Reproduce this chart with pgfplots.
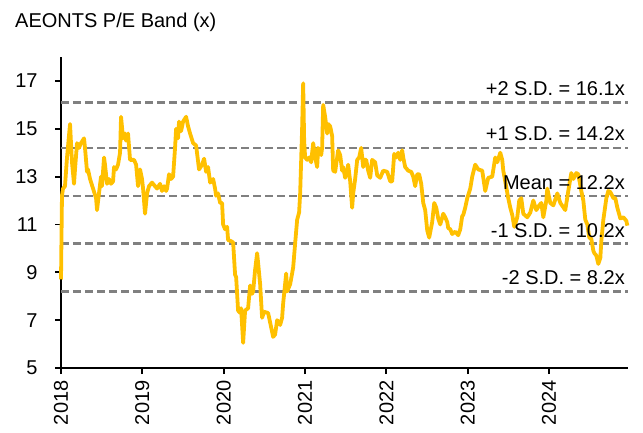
\documentclass[border=0pt]{standalone}
\usepackage{fontspec}
\setmainfont{Liberation Sans}
\usepackage{pgfplots}
\pgfplotsset{compat=1.18}
\definecolor{pegold}{HTML}{FFC000}
\definecolor{bandgray}{HTML}{808080}
\begin{document}
\begin{tikzpicture}
\begin{axis}[
  at={(61pt,64pt)}, anchor=south west,
  scale only axis, width=567pt, height=311pt,
  xmin=2018, xmax=2024.97, ymin=5, ymax=18,
  axis lines=left, axis line style={black, line width=1.8pt, -},
  xtick={2018,2019,2020,2021,2022,2023,2024},
  ytick={5,7,9,11,13,15,17},
  xticklabel={\pgfmathprintnumber[1000 sep={}]{\tick}},
  /pgf/number format/assume math mode=true,
  tick align=outside, major tick length=6pt,
  tick style={black, line width=1.8pt},
  ticklabel style={font=\fontsize{20}{22}\selectfont},
  yticklabel style={anchor=east, xshift=-14pt},
  xticklabel style={rotate=90, anchor=east, yshift=0pt, xshift=-3pt},
  clip=false,
]
\addplot[bandgray, line width=2.3pt, dash pattern=on 8pt off 4pt] coordinates {(2018,16.1) (2024.97,16.1)};
\addplot[bandgray, line width=2.3pt, dash pattern=on 8pt off 4pt] coordinates {(2018,14.2) (2024.97,14.2)};
\addplot[bandgray, line width=2.3pt, dash pattern=on 8pt off 4pt] coordinates {(2018,12.2) (2024.97,12.2)};
\addplot[bandgray, line width=2.3pt, dash pattern=on 8pt off 4pt] coordinates {(2018,10.2) (2024.97,10.2)};
\addplot[bandgray, line width=2.3pt, dash pattern=on 8pt off 4pt] coordinates {(2018,8.2) (2024.97,8.2)};
\addplot[pegold, line width=3.8pt, line join=round] coordinates {
(2018.000,8.7) (2018.012,12.2) (2018.025,12.5) (2018.049,12.6) (2018.074,13.8) (2018.111,15.2) (2018.135,13.6) (2018.160,12.7) (2018.172,13.3) (2018.197,14.4) (2018.221,14.2) (2018.246,14.4) (2018.283,14.6) (2018.295,14.2) (2018.320,13.2) (2018.332,13.3) (2018.357,12.9) (2018.394,12.5) (2018.431,12.1) (2018.443,11.6) (2018.467,12.3) (2018.492,13.0) (2018.504,12.6) (2018.529,13.8) (2018.541,13.5) (2018.566,12.7) (2018.590,12.9) (2018.615,12.7) (2018.640,12.8) (2018.652,13.4) (2018.677,13.3) (2018.701,13.5) (2018.726,14.0) (2018.738,15.5) (2018.763,14.6) (2018.787,14.8) (2018.800,14.5) (2018.824,14.8) (2018.849,13.7) (2018.898,13.7) (2018.923,13.5) (2018.947,12.6) (2018.972,13.3) (2018.996,12.9)
(2019.009,12.5) (2019.033,11.45) (2019.058,12.3) (2019.082,12.6) (2019.119,12.75) (2019.156,12.6) (2019.181,12.5) (2019.218,12.7) (2019.242,12.4) (2019.267,12.6) (2019.292,12.4) (2019.304,12.5) (2019.328,13.1) (2019.353,12.9) (2019.378,13.0) (2019.402,14.2) (2019.415,15.0) (2019.439,14.6) (2019.451,15.3) (2019.476,14.9) (2019.501,15.3) (2019.538,15.5) (2019.562,15.1) (2019.587,14.8) (2019.624,14.4) (2019.661,14.3) (2019.697,13.3) (2019.734,13.5) (2019.759,13.75) (2019.784,13.2) (2019.808,13.4) (2019.833,12.75) (2019.870,12.9) (2019.894,12.5) (2019.907,12.2) (2019.931,12.3) (2019.956,11.9) (2019.980,11.9) (2019.993,11.0)
(2020.017,10.8) (2020.042,10.9) (2020.054,10.35) (2020.091,10.3) (2020.116,10.25) (2020.140,8.9) (2020.153,8.8) (2020.177,7.4) (2020.202,7.3) (2020.214,7.5) (2020.239,6.05) (2020.263,7.4) (2020.300,7.5) (2020.325,8.45) (2020.349,8.1) (2020.362,8.2) (2020.386,9.1) (2020.411,9.8) (2020.423,9.4) (2020.448,8.5) (2020.472,7.1) (2020.497,7.35) (2020.546,7.3) (2020.571,6.9) (2020.608,6.3) (2020.632,6.4) (2020.657,7.0) (2020.694,6.8) (2020.718,7.1) (2020.731,7.7) (2020.768,8.95) (2020.780,8.2) (2020.817,8.5) (2020.854,9.2) (2020.878,10.2) (2020.903,11.2) (2020.927,11.5) (2020.940,12.3) (2020.964,15.0) (2020.977,16.9) (2020.989,14.5)
(2021.001,13.8) (2021.026,13.7) (2021.050,13.8) (2021.075,13.6) (2021.100,14.4) (2021.124,13.8) (2021.149,13.4) (2021.161,14.2) (2021.198,13.9) (2021.210,14.2) (2021.223,16.0) (2021.247,15.5) (2021.272,14.8) (2021.284,15.2) (2021.309,15.1) (2021.333,14.7) (2021.346,13.25) (2021.370,13.2) (2021.395,13.8) (2021.407,14.1) (2021.432,13.9) (2021.456,13.25) (2021.469,13.4) (2021.493,12.95) (2021.518,13.2) (2021.530,13.5) (2021.555,12.8) (2021.579,11.7) (2021.592,12.3) (2021.616,12.9) (2021.641,13.7) (2021.665,13.8) (2021.690,14.2) (2021.715,13.4) (2021.727,13.7) (2021.752,13.7) (2021.776,13.25) (2021.801,12.95) (2021.825,13.7) (2021.862,13.6) (2021.887,13.05) (2021.924,12.95) (2021.961,13.25)
(2022.010,13.2) (2022.047,12.8) (2022.071,12.8) (2022.096,13.95) (2022.121,13.8) (2022.145,14.0) (2022.170,13.7) (2022.194,14.1) (2022.207,13.8) (2022.231,13.4) (2022.268,13.25) (2022.305,13.2) (2022.330,13.0) (2022.354,12.6) (2022.379,13.1) (2022.403,13.1) (2022.428,12.7) (2022.453,11.9) (2022.477,11.6) (2022.502,10.75) (2022.526,10.45) (2022.563,11.1) (2022.588,11.9) (2022.613,11.7) (2022.637,11.25) (2022.662,11.0) (2022.699,11.45) (2022.723,11.3) (2022.748,11.1) (2022.760,10.85) (2022.785,10.8) (2022.809,10.6) (2022.846,10.7) (2022.883,10.55) (2022.908,10.8) (2022.932,11.35) (2022.945,11.4) (2022.969,11.7) (2022.994,12.1)
(2023.031,12.5) (2023.055,13.0) (2023.092,13.5) (2023.129,13.3) (2023.178,13.25) (2023.215,12.4) (2023.252,12.95) (2023.301,13.0) (2023.338,13.8) (2023.363,13.6) (2023.400,14.0) (2023.424,13.7) (2023.437,13.25) (2023.461,12.8) (2023.498,12.1) (2023.523,11.7) (2023.547,11.4) (2023.572,10.9) (2023.609,11.3) (2023.633,12.0) (2023.658,12.1) (2023.683,11.45) (2023.732,11.3) (2023.769,11.5) (2023.806,12.0) (2023.843,11.6) (2023.879,11.8) (2023.904,11.9) (2023.929,11.3) (2023.966,12.0) (2023.978,12.5)
(2024.015,11.9) (2024.052,11.8) (2024.101,12.3) (2024.138,11.9) (2024.199,11.6) (2024.236,12.4) (2024.273,13.15) (2024.298,12.9) (2024.335,13.15) (2024.359,13.1) (2024.396,12.4) (2024.421,12.0) (2024.445,11.2) (2024.470,11.0) (2024.494,10.45) (2024.519,10.4) (2024.544,9.9) (2024.556,9.8) (2024.581,9.7) (2024.605,9.35) (2024.630,9.6) (2024.642,10.3) (2024.667,11.2) (2024.704,12.1) (2024.728,12.4) (2024.753,12.35) (2024.790,12.1) (2024.814,12.1) (2024.839,11.7) (2024.876,11.25) (2024.913,11.3) (2024.950,11.15) (2024.962,10.95)
};
\begin{scope}[font=\fontsize{20}{22}\selectfont]
\node[anchor=base east, inner sep=0pt] at ([xshift=-3pt,yshift=7pt]axis cs:2024.97,16.1) {+2 S.D. = 16.1x};
\node[anchor=base east, inner sep=0pt] at ([xshift=-3pt,yshift=7pt]axis cs:2024.97,14.2) {+1 S.D. = 14.2x};
\node[anchor=base east, inner sep=0pt] at ([xshift=-3pt,yshift=6pt]axis cs:2024.97,12.2) {Mean = 12.2x};
\node[anchor=base east, inner sep=0pt] at ([xshift=-3pt,yshift=6pt]axis cs:2024.97,10.2) {-1 S.D. = 10.2x};
\node[anchor=base east, inner sep=0pt] at ([xshift=-3pt,yshift=7pt]axis cs:2024.97,8.2) {-2 S.D. = 8.2x};
\end{scope}
\end{axis}
\node[anchor=base west, inner sep=0pt, font=\fontsize{20}{22}\selectfont] at (15pt,404pt) {AEONTS P/E Band (x)};
\pgfresetboundingbox
\path[use as bounding box] (0,0) rectangle (643pt,432pt);
\end{tikzpicture}
\end{document}
